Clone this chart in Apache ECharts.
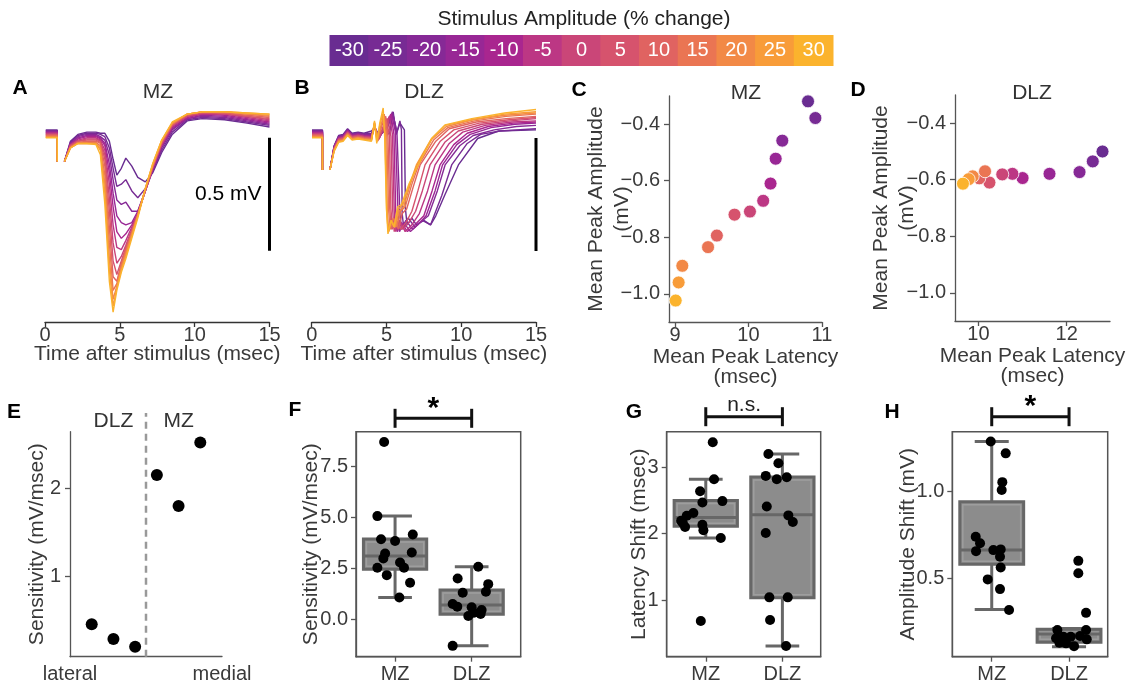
<!DOCTYPE html>
<html><head><meta charset="utf-8">
<script src="https://cdn.jsdelivr.net/npm/echarts@6/dist/echarts.min.js"></script>
<style>html,body{margin:0;padding:0;background:#fff}#c{width:1128px;height:685px}</style>
</head><body><div id="c"></div>
<script>
// ---------- DATA ----------
const STIM = [-30,-25,-20,-15,-10,-5,0,5,10,15,20,25,30];
const STIM_COLORS = ['#692c91','#772b94','#862996','#982795','#a9268f','#bc3784','#ca4678','#d6536d','#e06361','#ea7553','#f28946','#f89c39','#fbb32d'];

// Panel A (MZ) traces: shared time base (ms) and mV values per stimulus
const tA = [1.3,1.7,2.2,2.8,3.4,3.7,4.0,4.3,4.55,4.8,5.1,5.4,5.8,6.2,6.7,7.2,7.8,8.5,9.5,10.5,12,13.5,15];
const mz_m30 = [-0.09,0.0,0.03,0.04,0.04,0.035,0.035,0.0,-0.08,-0.15,-0.12,-0.075,-0.11,-0.16,-0.18,-0.14,-0.05,0.03,0.09,0.10,0.095,0.08,0.063];
const mz_m25 = [-0.09,-0.005,0.025,0.035,0.035,0.03,0.02,-0.03,-0.12,-0.20,-0.19,-0.17,-0.22,-0.25,-0.21,-0.13,-0.04,0.04,0.095,0.105,0.10,0.085,0.07];
const mz_m20 = [-0.09,-0.01,0.02,0.03,0.03,0.02,0.005,-0.06,-0.17,-0.26,-0.28,-0.27,-0.31,-0.31,-0.22,-0.13,-0.03,0.05,0.10,0.11,0.105,0.09,0.075];
const mz_m15 = [-0.09,-0.01,0.015,0.025,0.025,0.015,-0.01,-0.10,-0.23,-0.33,-0.36,-0.37,-0.36,-0.31,-0.22,-0.12,-0.02,0.055,0.10,0.115,0.11,0.095,0.08];
const mz_m10 = [-0.09,-0.015,0.01,0.02,0.02,0.01,-0.02,-0.14,-0.29,-0.40,-0.43,-0.41,-0.37,-0.32,-0.22,-0.12,-0.02,0.06,0.105,0.12,0.115,0.10,0.085];
const mz_m05 = [-0.09,-0.015,0.005,0.015,0.015,0.005,-0.04,-0.19,-0.37,-0.47,-0.48,-0.44,-0.38,-0.32,-0.22,-0.12,-0.015,0.065,0.11,0.12,0.12,0.105,0.09];
const mz_p00 = [-0.09,-0.02,0.0,0.01,0.01,0.0,-0.06,-0.25,-0.45,-0.54,-0.51,-0.46,-0.39,-0.32,-0.22,-0.115,-0.01,0.07,0.11,0.125,0.12,0.11,0.095];
const mz_p05 = [-0.09,-0.02,0.0,0.005,0.005,-0.005,-0.08,-0.31,-0.53,-0.59,-0.53,-0.47,-0.40,-0.325,-0.22,-0.115,-0.01,0.07,0.115,0.125,0.125,0.11,0.10];
const mz_p10 = [-0.09,-0.025,-0.005,0.0,0.0,-0.01,-0.11,-0.38,-0.60,-0.62,-0.54,-0.48,-0.40,-0.325,-0.215,-0.11,-0.005,0.075,0.115,0.13,0.125,0.115,0.105];
const mz_p15 = [-0.09,-0.025,-0.005,-0.005,-0.005,-0.02,-0.15,-0.45,-0.66,-0.63,-0.55,-0.49,-0.41,-0.33,-0.215,-0.11,0.0,0.075,0.12,0.13,0.13,0.12,0.11];
const mz_p20 = [-0.09,-0.03,-0.01,-0.01,-0.01,-0.03,-0.19,-0.52,-0.70,-0.64,-0.56,-0.50,-0.41,-0.33,-0.21,-0.105,0.0,0.08,0.12,0.13,0.13,0.12,0.115];
const mz_p25 = [-0.09,-0.03,-0.01,-0.01,-0.01,-0.04,-0.23,-0.57,-0.73,-0.65,-0.57,-0.51,-0.42,-0.33,-0.21,-0.10,0.005,0.08,0.12,0.13,0.13,0.125,0.12];
const mz_p30 = [-0.09,-0.03,-0.01,-0.01,-0.015,-0.06,-0.28,-0.62,-0.756,-0.66,-0.58,-0.52,-0.43,-0.34,-0.21,-0.10,0.005,0.085,0.12,0.13,0.13,0.125,0.12];
const mzTraces = [mz_m30,mz_m25,mz_m20,mz_m15,mz_m10,mz_m05,mz_p00,mz_p05,mz_p10,mz_p15,mz_p20,mz_p25,mz_p30];
const artA = [0.05,0.047,0.044,0.041,0.038,0.035,0.032,0.029,0.026,0.023,0.02,0.017,0.015];

// Panel B (DLZ) traces: [ms, mV]
const dlz_m30 = [[1.22,-0.127],[1.5,-0.02],[1.8,0.025],[2.1,0.03],[2.4,0.055],[2.7,0.035],[3.1,0.04],[3.5,0.035],[4.0,0.045],[4.2,0.06],[4.5,0.03],[4.9,0.05],[5.2,0.03],[5.45,0.13],[5.65,0.03],[5.9,0.08],[6.2,0.05],[6.27,-0.30],[6.38,-0.37],[6.7,-0.34],[7.0,-0.37],[7.5,-0.35],[7.95,-0.37],[8.3,-0.33],[8.9,-0.238],[9.81,-0.105],[11.1,0.012],[12.5,0.045],[15,0.05]];
const dlz_m25 = [[1.22,-0.127],[1.5,-0.022],[1.8,0.022],[2.1,0.028],[2.4,0.052],[2.7,0.032],[3.1,0.037],[3.5,0.032],[4.0,0.035],[4.2,0.06],[4.5,0.025],[5.0,0.05],[5.43,0.12],[5.7,0.04],[5.9,0.09],[6.0,0.05],[6.05,-0.32],[6.15,-0.38],[6.45,-0.34],[6.9,-0.38],[7.4,-0.35],[7.95,-0.37],[8.7,-0.24],[9.36,-0.105],[10.4,-0.01],[11.3,0.03],[12.6,0.045],[15,0.055]];
const dlz_m20 = [[1.22,-0.127],[1.5,-0.024],[1.8,0.02],[2.1,0.025],[2.4,0.05],[2.7,0.03],[3.1,0.035],[3.5,0.03],[4.0,0.03],[4.2,0.06],[4.5,0.02],[5.0,0.06],[5.4,0.13],[5.7,0.04],[5.9,-0.32],[6.0,-0.39],[6.3,-0.35],[6.75,-0.39],[7.25,-0.36],[7.8,-0.33],[8.4,-0.22],[8.92,-0.105],[9.9,-0.02],[10.8,0.025],[12.2,0.05],[13.7,0.065],[15,0.07]];
const dlz_m15 = [[1.22,-0.127],[1.5,-0.026],[1.8,0.017],[2.1,0.022],[2.4,0.047],[2.7,0.027],[3.1,0.032],[3.5,0.027],[4.0,0.025],[4.2,0.065],[4.5,0.015],[4.95,0.06],[5.35,0.12],[5.6,0.04],[5.77,-0.31],[5.87,-0.40],[6.15,-0.36],[6.6,-0.40],[7.1,-0.37],[7.65,-0.33],[8.25,-0.22],[8.75,-0.105],[9.7,-0.015],[10.6,0.03],[12,0.06],[13.6,0.075],[15,0.08]];
const dlz_m10 = [[1.22,-0.127],[1.5,-0.028],[1.8,0.015],[2.1,0.02],[2.4,0.045],[2.7,0.025],[3.1,0.03],[3.5,0.025],[4.0,0.02],[4.2,0.065],[4.5,0.01],[4.9,0.07],[5.3,0.12],[5.5,0.03],[5.62,-0.31],[5.72,-0.40],[6.0,-0.36],[6.4,-0.40],[6.9,-0.37],[7.5,-0.33],[8.05,-0.22],[8.58,-0.105],[9.5,-0.015],[10.4,0.035],[11.8,0.065],[13.5,0.08],[15,0.085]];
const dlz_m05 = [[1.22,-0.127],[1.5,-0.03],[1.8,0.012],[2.1,0.017],[2.4,0.042],[2.7,0.022],[3.1,0.027],[3.5,0.022],[4.0,0.02],[4.2,0.07],[4.5,0.01],[4.85,0.06],[5.2,0.11],[5.4,0.03],[5.52,-0.31],[5.62,-0.40],[5.9,-0.35],[6.25,-0.40],[6.7,-0.37],[7.2,-0.32],[7.75,-0.22],[8.25,-0.105],[9.2,-0.01],[10.1,0.04],[11.6,0.07],[13.4,0.085],[15,0.09]];
const dlz_p00 = [[1.22,-0.127],[1.5,-0.032],[1.8,0.01],[2.1,0.015],[2.4,0.04],[2.7,0.02],[3.1,0.025],[3.5,0.02],[4.0,0.015],[4.2,0.07],[4.45,0.005],[4.8,0.06],[5.1,0.10],[5.3,0.02],[5.42,-0.31],[5.52,-0.40],[5.8,-0.35],[6.1,-0.39],[6.5,-0.36],[6.95,-0.31],[7.4,-0.22],[7.91,-0.105],[8.9,-0.005],[9.8,0.045],[11.4,0.075],[13.3,0.09],[15,0.10]];
const dlz_p05 = [[1.22,-0.127],[1.5,-0.034],[1.8,0.007],[2.1,0.012],[2.4,0.037],[2.7,0.017],[3.1,0.022],[3.5,0.017],[4.0,0.015],[4.2,0.075],[4.45,0.005],[4.75,0.06],[5.0,0.10],[5.2,0.02],[5.3,-0.30],[5.4,-0.39],[5.65,-0.35],[5.95,-0.39],[6.3,-0.36],[6.7,-0.31],[7.1,-0.22],[7.58,-0.105],[8.6,0.0],[9.5,0.05],[11.2,0.08],[13.2,0.095],[15,0.105]];
const dlz_p10 = [[1.22,-0.127],[1.5,-0.036],[1.8,0.005],[2.1,0.01],[2.4,0.035],[2.7,0.015],[3.1,0.02],[3.5,0.015],[4.0,0.01],[4.2,0.075],[4.4,0.0],[4.7,0.07],[4.95,0.11],[5.1,0.02],[5.22,-0.30],[5.32,-0.39],[5.55,-0.35],[5.8,-0.39],[6.05,-0.32],[6.35,-0.30],[6.8,-0.20],[7.25,-0.105],[8.3,0.0],[9.2,0.055],[11,0.085],[13,0.10],[15,0.11]];
const dlz_p15 = [[1.22,-0.127],[1.5,-0.038],[1.8,0.002],[2.1,0.007],[2.4,0.032],[2.7,0.012],[3.1,0.017],[3.5,0.012],[4.0,0.01],[4.2,0.08],[4.4,0.0],[4.65,0.07],[4.85,0.12],[5.02,0.03],[5.14,-0.30],[5.24,-0.39],[5.45,-0.34],[5.7,-0.38],[5.95,-0.31],[6.25,-0.29],[6.7,-0.19],[7.15,-0.105],[8.15,0.005],[9.1,0.06],[10.9,0.09],[13,0.11],[15,0.12]];
const dlz_p20 = [[1.22,-0.127],[1.5,-0.04],[1.8,0.0],[2.1,0.005],[2.4,0.03],[2.7,0.01],[3.1,0.015],[3.5,0.01],[4.0,0.005],[4.2,0.08],[4.38,0.0],[4.6,0.06],[4.8,0.11],[4.95,0.03],[5.06,-0.32],[5.16,-0.40],[5.35,-0.35],[5.6,-0.38],[5.85,-0.31],[6.15,-0.29],[6.6,-0.19],[7.05,-0.105],[8.05,0.01],[9.0,0.065],[10.8,0.095],[12.9,0.115],[15,0.125]];
const dlz_p25 = [[1.22,-0.127],[1.5,-0.042],[1.8,-0.002],[2.1,0.003],[2.4,0.028],[2.7,0.008],[3.1,0.013],[3.5,0.008],[4.0,0.005],[4.2,0.085],[4.35,0.0],[4.55,0.07],[4.75,0.12],[4.9,0.03],[5.02,-0.32],[5.12,-0.40],[5.3,-0.35],[5.55,-0.38],[5.8,-0.30],[6.1,-0.28],[6.55,-0.19],[7.0,-0.105],[8.0,0.01],[8.9,0.07],[10.7,0.095],[12.9,0.12],[15,0.13]];
const dlz_p30 = [[1.22,-0.127],[1.5,-0.045],[1.8,-0.005],[2.1,0.0],[2.4,0.025],[2.7,0.005],[3.1,0.01],[3.5,0.005],[4.0,0.0],[4.2,0.09],[4.35,-0.01],[4.55,0.08],[4.78,0.147],[4.88,0.02],[5.0,-0.30],[5.1,-0.41],[5.3,-0.35],[5.5,-0.38],[5.75,-0.29],[6.0,-0.28],[6.5,-0.19],[7.13,-0.105],[8.03,0.013],[8.92,0.072],[10.7,0.10],[12.9,0.125],[15,0.14]];
const dlzTraces = [dlz_m30,dlz_m25,dlz_m20,dlz_m15,dlz_m10,dlz_m05,dlz_p00,dlz_p05,dlz_p10,dlz_p15,dlz_p20,dlz_p25,dlz_p30];
const artB = [0.05,0.047,0.044,0.041,0.038,0.035,0.032,0.029,0.026,0.023,0.02,0.017,0.015];

// Panels C, D: mean peak latency (ms) and amplitude (mV) per stimulus
const cLatency = [10.81,10.91,10.46,10.37,10.30,10.20,10.02,9.81,9.57,9.45,9.10,9.05,9.01];
const cAmplitude = [-0.319,-0.378,-0.458,-0.522,-0.610,-0.671,-0.709,-0.720,-0.794,-0.835,-0.901,-0.960,-1.024];
const dLatency = [12.81,12.59,12.29,11.61,11.00,10.77,10.54,10.25,10.02,10.15,9.87,9.78,9.65];
const dAmplitude = [-0.500,-0.535,-0.573,-0.579,-0.594,-0.579,-0.581,-0.610,-0.595,-0.570,-0.588,-0.598,-0.614];

// Panel E: position (lateral -> medial) and sensitivity
const ePosition = [1,2,3,4,5,6];
const eSensitivity = [0.461,0.294,0.207,2.151,1.80,2.52];
const eBoundary = 3.5;

// Panels F, G, H: box stats [pos, lowerWhisker, Q1, median, Q3, upperWhisker] and jittered points [pos, value]
const fBoxes = [[1,1.07,2.45,3.1,3.93,5.06],[2,-1.30,0.245,0.70,1.43,2.57]];
const fPoints = [[0.857,8.68],[0.769,5.05],[0.817,3.92],[1.0,3.83],[1.231,4.15],[0.870,3.22],[0.847,2.98],[1.218,3.27],[1.065,2.78],[1.117,2.52],[0.769,2.52],[0.892,2.16],[1.196,1.79],[1.056,1.07],
  [2.086,2.57],[1.817,2.0],[2.216,1.72],[2.186,1.35],[1.883,1.30],[1.752,0.75],[1.812,0.62],[2.0,0.59],[2.03,0.32],[2.13,0.45],[1.956,0.16],[2.117,0.26],[1.752,-1.30]];
const gBoxes = [[1,1.935,2.11,2.245,2.50,2.82],[2,0.307,1.035,2.286,2.854,3.20]];
const gPoints = [[1.091,3.377],[1.108,2.82],[0.926,2.64],[0.956,2.47],[1.217,2.49],[0.838,2.31],[0.752,2.27],[0.678,2.195],[0.730,2.10],[0.956,2.135],[0.969,2.05],[1.196,1.935],[0.935,0.684],[0.70,2.16],
  [1.817,3.20],[1.948,3.06],[1.783,2.87],[1.927,2.82],[2.057,2.85],[1.796,2.41],[2.078,2.275],[2.136,2.175],[1.783,2.01],[1.830,1.04],[2.070,1.04],[1.839,0.70],[2.048,0.307]];
const hBoxes = [[1,0.321,0.581,0.663,0.942,1.289],[2,0.105,0.131,0.179,0.206,0.21]];
const hPoints = [[0.987,1.289],[1.181,1.221],[1.137,1.055],[1.129,1.01],[0.793,0.740],[0.849,0.702],[0.797,0.657],[1.021,0.663],[1.116,0.667],[1.107,0.625],[1.116,0.563],[0.948,0.494],[1.107,0.438],[1.224,0.317],
  [2.12,0.601],[2.12,0.529],[2.22,0.301],[2.22,0.202],[1.849,0.202],[1.832,0.154],[1.926,0.163],[2.022,0.163],[2.142,0.167],[2.229,0.148],[1.875,0.128],[1.961,0.125],[2.065,0.109]];
const groupLabels = ['MZ','DLZ'];

// ---------- STYLE ----------
const FF = 'Liberation Sans', TX = '#3a3a3a', AX = '#555', FS = 20, FN = 21;
const lbl = (o) => Object.assign({color:TX, fontSize:FS, fontFamily:FF, margin:3}, o||{});
const nm = (o) => Object.assign({color:TX, fontSize:FN, fontFamily:FF}, o||{});
const aLine = (c) => ({show:true, onZero:false, lineStyle:{color:c||AX, width:1.3}});
const aTick = (vals, c) => { const t = {show:true, length:5, lineStyle:{color:c||AX, width:1.3}}; if (vals) t.customValues = vals; return t; };
const minus = v => (v < 0 ? '\u2212' : '') + Math.abs(v).toFixed(1);
const NM = (name, gap, o) => ({name, nameLocation:'middle', nameGap:gap, nameMoveOverlap:false, nameTextStyle:nm(o)});

const frame = {show:true, borderColor:AX, borderWidth:1.5, backgroundColor:'transparent'};
const grid = [
  {left:330, top:35, width:503, height:31},
  {left:45, top:96, width:224.5, height:226},
  {left:311.7, top:96, width:224.3, height:226},
  {left:669, top:96, width:153, height:226},
  {left:955, top:95, width:155, height:226},
  {left:70, top:431.7, width:152, height:225},
  Object.assign({left:356, top:431.7, width:164.7, height:225}, frame),
  Object.assign({left:666.7, top:431.7, width:154, height:225}, frame),
  Object.assign({left:952.3, top:431.7, width:155.4, height:225}, frame)
];

const xAxis = [
  {gridIndex:0, type:'value', min:-0.5, max:12.5, show:false},
  Object.assign({gridIndex:1, type:'value', min:0, max:15, interval:5, axisLine:aLine('#333'), axisTick:aTick(null,'#333'), axisLabel:lbl({margin:3}), splitLine:{show:false}},
    NM('Time after stimulus (msec)', 22)),
  Object.assign({gridIndex:2, type:'value', min:0, max:15, interval:5, axisLine:aLine('#333'), axisTick:aTick(null,'#333'), axisLabel:lbl({margin:3}), splitLine:{show:false}},
    NM('Time after stimulus (msec)', 22)),
  Object.assign({gridIndex:3, type:'value', min:8.919, max:11.0, axisLine:aLine(), axisTick:aTick([9,10,11]), axisLabel:lbl({customValues:[9,10,11]}), splitLine:{show:false}},
    NM('Mean Peak Latency\n(msec)', 25, {lineHeight:20})),
  Object.assign({gridIndex:4, type:'value', min:9.47, max:12.98, axisLine:aLine(), axisTick:aTick([10,12]), axisLabel:lbl({customValues:[10,12]}), splitLine:{show:false}},
    NM('Mean Peak Latency\n(msec)', 25, {lineHeight:20})),
  {gridIndex:5, type:'value', min:0, max:7, axisLine:aLine(), axisTick:{show:false}, axisLabel:lbl({customValues:[0,7], margin:8, formatter:v=>v<3.5?'lateral':'medial'}), splitLine:{show:false}},
  {gridIndex:6, type:'value', min:0.49, max:2.64, axisLine:aLine(), axisTick:aTick([1,2]), axisLabel:lbl({customValues:[1,2], margin:8, formatter:v=>groupLabels[Math.round(v)-1]}), splitLine:{show:false}},
  {gridIndex:7, type:'value', min:0.49, max:2.50, axisLine:aLine(), axisTick:aTick([1,2]), axisLabel:lbl({customValues:[1,2], margin:8, formatter:v=>groupLabels[Math.round(v)-1]}), splitLine:{show:false}},
  {gridIndex:8, type:'value', min:0.49, max:2.50, axisLine:aLine(), axisTick:aTick([1,2]), axisLabel:lbl({customValues:[1,2], margin:8, formatter:v=>groupLabels[Math.round(v)-1]}), splitLine:{show:false}}
];

const yAxis = [
  {gridIndex:0, type:'value', min:0, max:1, show:false},
  {gridIndex:1, type:'value', min:-0.8, max:0.2, show:false},
  {gridIndex:2, type:'value', min:-0.8, max:0.2, show:false},
  Object.assign({gridIndex:3, type:'value', min:-1.1, max:-0.3, axisLine:aLine(), axisTick:aTick([-1.0,-0.8,-0.6,-0.4]), axisLabel:lbl({customValues:[-1.0,-0.8,-0.6,-0.4], margin:9, formatter:minus}), splitLine:{show:false}},
    NM('Mean Peak Amplitude\n(mV)', 34, {lineHeight:26})),
  Object.assign({gridIndex:4, type:'value', min:-1.1, max:-0.3, axisLine:aLine(), axisTick:aTick([-1.0,-0.8,-0.6,-0.4]), axisLabel:lbl({customValues:[-1.0,-0.8,-0.6,-0.4], margin:9, formatter:minus}), splitLine:{show:false}},
    NM('Mean Peak Amplitude\n(mV)', 35, {lineHeight:26})),
  Object.assign({gridIndex:5, type:'value', min:0.094, max:2.641, axisLine:aLine(), axisTick:aTick([1,2]), axisLabel:lbl({customValues:[1,2], margin:9}), splitLine:{show:false}},
    NM('Sensitivity (mV/msec)', 22.5)),
  Object.assign({gridIndex:6, type:'value', min:-1.83, max:9.18, axisLine:aLine(), axisTick:aTick([0,2.5,5,7.5]), axisLabel:lbl({customValues:[0,2.5,5,7.5], margin:8, formatter:v=>v.toFixed(1)}), splitLine:{show:false}},
    NM('Sensitivity (mV/msec)', 34.5)),
  Object.assign({gridIndex:7, type:'value', min:0.146, max:3.536, axisLine:aLine(), axisTick:aTick([1,2,3]), axisLabel:lbl({customValues:[1,2,3], margin:8}), splitLine:{show:false}},
    NM('Latency Shift (msec)', 17)),
  Object.assign({gridIndex:8, type:'value', min:0.048, max:1.346, axisLine:aLine(), axisTick:aTick([0.5,1.0]), axisLabel:lbl({customValues:[0.5,1.0], margin:8, formatter:v=>v.toFixed(1)}), splitLine:{show:false}},
    NM('Amplitude Shift (mV)', 34))
];

const series = [];
// colour legend as a strip of cells (one per stimulus level)
series.push({type:'custom', xAxisIndex:0, yAxisIndex:0, silent:true,
  data: STIM.map((s,i)=>[i, s]),
  renderItem: (params, api) => {
    const i = api.value(0);
    const a = api.coord([i-0.5, 1]), b = api.coord([i+0.5, 0]);
    const col = STIM_COLORS[params.dataIndex];
    return {type:'group', children:[
      {type:'rect', shape:{x:a[0]-0.5, y:a[1], width:b[0]-a[0]+1, height:b[1]-a[1]}, style:{fill:col}},
      {type:'text', x:(a[0]+b[0])/2, y:(a[1]+b[1])/2, style:{text:String(api.value(1)), fill:'#fff', fontSize:20, fontFamily:FF, align:'center', verticalAlign:'middle'}}
    ]};
  }});

// A traces
mzTraces.forEach((vals,k)=>{
  const data = [[0.05,artA[k]],[0.82,artA[k]],[0.82,-0.09],[1.0,'-']].concat(tA.map((t,i)=>[t, vals[i]]));
  series.push({type:'line', xAxisIndex:1, yAxisIndex:1, data, symbol:'none', silent:true, clip:false,
    lineStyle:{color:STIM_COLORS[k], width:1.4}});
});
// B traces
dlzTraces.forEach((pts,k)=>{
  const data = [[0.02,artB[k]],[0.72,artB[k]],[0.72,-0.127],[1.0,'-']].concat(pts);
  series.push({type:'line', xAxisIndex:2, yAxisIndex:2, data, symbol:'none', silent:true, clip:false,
    lineStyle:{color:STIM_COLORS[k], width:1.4}});
});
// scale bars (0.5 mV)
const scaleBarA = [[15,0.015],[15,-0.485]];
const scaleBarB = [[15,0.014],[15,-0.486]];
series.push({type:'line', xAxisIndex:1, yAxisIndex:1, data:scaleBarA, symbol:'none', clip:false, lineStyle:{color:'#000', width:3}});
series.push({type:'line', xAxisIndex:2, yAxisIndex:2, data:scaleBarB, symbol:'none', clip:false, lineStyle:{color:'#000', width:3}});

// C, D scatter
series.push({type:'scatter', xAxisIndex:3, yAxisIndex:3, symbolSize:13, itemStyle:{borderColor:'#fff', borderWidth:0.8, opacity:1},
  data: cLatency.map((x,i)=>({value:[x,cAmplitude[i]], itemStyle:{color:STIM_COLORS[i]}}))});
series.push({type:'scatter', xAxisIndex:4, yAxisIndex:4, symbolSize:13, itemStyle:{borderColor:'#fff', borderWidth:0.8, opacity:1},
  data: dLatency.map((x,i)=>({value:[x,dAmplitude[i]], itemStyle:{color:STIM_COLORS[i]}}))});

// E
series.push({type:'line', xAxisIndex:5, yAxisIndex:5, data:[[eBoundary,0.094],[eBoundary,2.853]], symbol:'none', clip:false,
  lineStyle:{color:'#999', width:2.5, type:[7,5]}});
series.push({type:'scatter', xAxisIndex:5, yAxisIndex:5, symbolSize:12, itemStyle:{color:'#000', opacity:1},
  data: ePosition.map((p,i)=>[p, eSensitivity[i]])});

// F, G, H boxes
function renderBox(params, api){
  const x = api.value(0);
  const p = v => api.coord([x, v]);
  const hw = api.size([0.413,0])[0], cw = api.size([0.22,0])[0];
  const lo=p(api.value(1)), q1=p(api.value(2)), md=p(api.value(3)), q3=p(api.value(4)), hi=p(api.value(5));
  const cx = lo[0];
  const st = {stroke:'#676767', lineWidth:3};
  return {type:'group', children:[
    {type:'line', shape:{x1:cx,y1:hi[1],x2:cx,y2:lo[1]}, style:st},
    {type:'line', shape:{x1:cx-cw,y1:hi[1],x2:cx+cw,y2:hi[1]}, style:st},
    {type:'line', shape:{x1:cx-cw,y1:lo[1],x2:cx+cw,y2:lo[1]}, style:st},
    {type:'rect', shape:{x:cx-hw,y:q3[1],width:2*hw,height:q1[1]-q3[1]}, style:{fill:'#8c8c8c', stroke:'#676767', lineWidth:3}},
    {type:'rect', shape:{x:cx-hw+3,y:q3[1]+3,width:2*hw-6,height:Math.max(0,q1[1]-q3[1]-6)}, style:{fill:'none', stroke:'#9e9e9e', lineWidth:1.5}},
    {type:'line', shape:{x1:cx-hw,y1:md[1],x2:cx+hw,y2:md[1]}, style:st}
  ]};
}
[[6,fBoxes,fPoints],[7,gBoxes,gPoints],[8,hBoxes,hPoints]].forEach(([gi,boxes,pts])=>{
  series.push({type:'custom', xAxisIndex:gi, yAxisIndex:gi, renderItem:renderBox, encode:{x:0, y:[1,2,3,4,5]}, data:boxes, silent:true});
  series.push({type:'scatter', xAxisIndex:gi, yAxisIndex:gi, symbolSize:10, itemStyle:{color:'#000', opacity:1}, data:pts});
});

const chart = echarts.init(document.getElementById('c'));
chart.setOption({animation:false, backgroundColor:'#fff', grid, xAxis, yAxis, series});

// ---------- annotations ----------
const T = (text, x, y, o) => ({type:'text', x, y, silent:true, style:Object.assign({text, fill:'#333', fontSize:FN, fontFamily:FF,
  align:'center', verticalAlign:'middle', textAlign:'center', textVerticalAlign:'middle'}, o||{})});
const L = (x1,y1,x2,y2,w) => ({type:'line', silent:true, shape:{x1,y1,x2,y2}, style:{stroke:'#111', lineWidth:w||3}});
const bold = {fill:'#000', fontWeight:'bold', fontSize:21};
const g = [];
g.push(T('Stimulus Amplitude (% change)', 584, 19, {fill:'#222'}));
[['A',20,88],['B',302,88],['C',579,90],['D',858,90],['E',14,412],['F',295,410],['G',634,412],['H',892,412]].forEach(([t,x,y])=>g.push(T(t,x,y,bold)));
g.push(T('MZ',158,92)); g.push(T('DLZ',424,92)); g.push(T('MZ',746,93)); g.push(T('DLZ',1032,93));
const sb = chart.convertToPixel({xAxisIndex:1, yAxisIndex:1}, [15, (scaleBarA[0][1]+scaleBarA[1][1])/2]);
g.push(T('0.5 mV', sb[0]-8, sb[1], {align:'right', textAlign:'right', fill:'#000'}));
g.push(T('DLZ', chart.convertToPixel({xAxisIndex:5}, 2), 421));
g.push(T('MZ', chart.convertToPixel({xAxisIndex:5}, 5), 421));
[[6,'*',418.3],[7,'n.s.',416.7],[8,'*',416.7]].forEach(([gi,txt,y])=>{
  const x1 = chart.convertToPixel({xAxisIndex:gi}, 1), x2 = chart.convertToPixel({xAxisIndex:gi}, 2);
  g.push(L(x1,y,x2,y)); g.push(L(x1,y-9.5,x1,y+9.5)); g.push(L(x2,y-9.5,x2,y+9.5));
  if (txt === '*') g.push(T('*', (x1+x2)/2, y-10, {fill:'#000', fontWeight:'bold', fontSize:30}));
  else g.push(T(txt, (x1+x2)/2, y-11, {fill:'#222'}));
});
chart.setOption({graphic:g});
</script></body></html>
